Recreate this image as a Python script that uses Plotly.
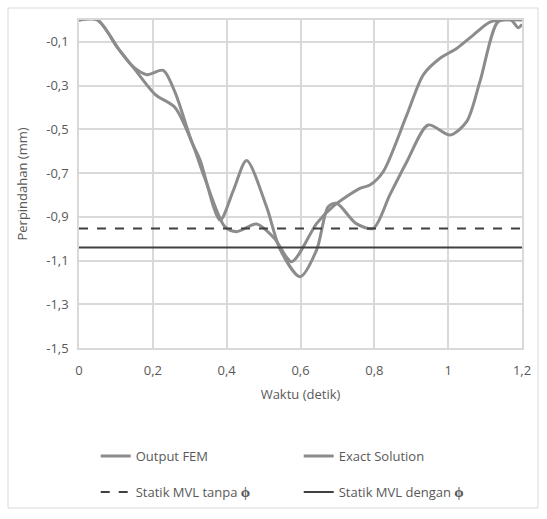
import plotly.graph_objects as go

# Data
fem_x = [0, 0.05, 0.106, 0.144, 0.184, 0.228, 0.26, 0.306, 0.328, 0.382, 0.418, 0.454,
         0.508, 0.545, 0.599, 0.644, 0.675, 0.698, 0.75, 0.797, 0.842, 0.888, 0.946,
         1.005, 1.05, 1.086, 1.135, 1.17, 1.19, 1.2]
fem_y = [0, 0, -0.13, -0.21, -0.25, -0.23, -0.33, -0.56, -0.64, -0.915, -0.78, -0.643,
         -0.854, -1.05, -1.174, -1.05, -0.854, -0.838, -0.93, -0.953, -0.80, -0.648, -0.48,
         -0.526, -0.465, -0.282, -0.008, 0, -0.035, -0.02]

exact_x = [0, 0.05, 0.106, 0.144, 0.206, 0.26, 0.306, 0.34, 0.395, 0.427, 0.481, 0.53,
           0.576, 0.644, 0.69, 0.761, 0.788, 0.824, 0.888, 0.933, 0.978, 1.023, 1.068,
           1.113, 1.15, 1.2]
exact_y = [0, 0, -0.13, -0.21, -0.34, -0.40, -0.56, -0.72, -0.945, -0.968, -0.933, -1.0,
           -1.105, -0.93, -0.85, -0.77, -0.755, -0.694, -0.434, -0.25, -0.175, -0.13, -0.069,
           -0.01, 0, 0]

static_x = [0, 1.2]
static_tanpa = [-0.953, -0.953]
static_dengan = [-1.04, -1.04]

x_ticks = [0, 0.2, 0.4, 0.6, 0.8, 1.0, 1.2]
x_ticktext = ["0", "0,2", "0,4", "0,6", "0,8", "1", "1,2"]
y_ticks = [-1.5, -1.3, -1.1, -0.9, -0.7, -0.5, -0.3, -0.1]
y_ticktext = ["-1,5", "-1,3", "-1,1", "-0,9", "-0,7", "-0,5", "-0,3", "-0,1"]

FONT = "Open Sans"
TXT = "#595959"
GRID = "#d9d9d9"
PHI = "<b><span style='font-size:15px'>ϕ</span></b>"

fig = go.Figure()
fig.add_trace(go.Scatter(x=fem_x, y=fem_y, mode="lines", name="Output FEM",
                         line=dict(color="#8c8c8c", width=3, shape="spline", smoothing=0.8),
                         legend="legend"))
fig.add_trace(go.Scatter(x=exact_x, y=exact_y, mode="lines", name="Exact Solution",
                         line=dict(color="#8c8c8c", width=3, shape="spline", smoothing=0.8),
                         legend="legend"))
fig.add_trace(go.Scatter(x=static_x, y=static_tanpa, mode="lines",
                         name="Statik MVL tanpa " + PHI,
                         line=dict(color="#404040", width=2, dash="dash"),
                         legend="legend2"))
fig.add_trace(go.Scatter(x=static_x, y=static_dengan, mode="lines",
                         name="Statik MVL dengan " + PHI,
                         line=dict(color="#404040", width=2),
                         legend="legend2"))

legend_common = dict(orientation="h", xref="container", yref="container",
                     x=0.175, xanchor="left", yanchor="top",
                     entrywidth=158, font=dict(size=13, color=TXT),
                     bgcolor="rgba(0,0,0,0)")

fig.update_layout(
    width=547, height=519,
    margin=dict(l=79, r=25, t=20, b=171),
    paper_bgcolor="white", plot_bgcolor="white",
    font=dict(family=FONT, size=13, color=TXT),
    xaxis=dict(range=[0, 1.2], tickvals=x_ticks, ticktext=x_ticktext,
               showgrid=True, gridcolor=GRID, gridwidth=1.5, zeroline=False,
               showline=True, linecolor=GRID, linewidth=1.5, mirror=True,
               ticks="", ticklabelstandoff=10,
               title=dict(text="Waktu (detik)", font=dict(size=13, color=TXT), standoff=12),
               tickfont=dict(size=13, color=TXT)),
    yaxis=dict(range=[-1.5, 0], tickvals=y_ticks, ticktext=y_ticktext,
               showgrid=True, gridcolor=GRID, gridwidth=1.5, zeroline=False,
               showline=True, linecolor=GRID, linewidth=1.5, mirror=True,
               ticks="", ticklabelstandoff=6,
               title=dict(text="Perpindahan (mm)", font=dict(size=13, color=TXT), standoff=16),
               tickfont=dict(size=13, color=TXT)),
    legend=dict(legend_common, y=1 - 441 / 519),
    legend2=dict(legend_common, y=1 - 477 / 519),
    shapes=[dict(type="rect", xref="paper", yref="paper",
                 x0=(8 - 79) / 443, x1=(538 - 79) / 443,
                 y0=(348 - 508) / 328, y1=(348 - 8) / 328,
                 line=dict(color="#d9d9d9", width=1), layer="below")],
)

fig.write_html("out.html")
